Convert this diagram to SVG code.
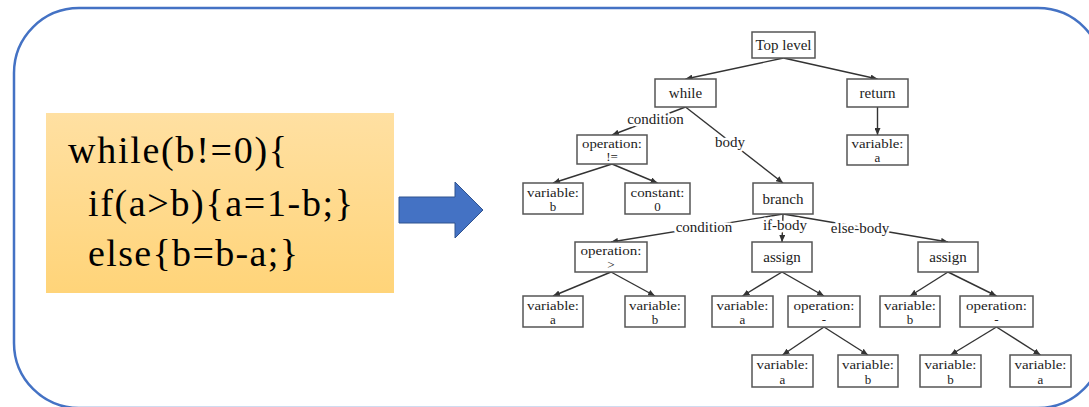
<svg xmlns="http://www.w3.org/2000/svg" width="1089" height="407" viewBox="0 0 1089 407">
<defs>
<linearGradient id="gold" x1="0" y1="0" x2="0" y2="1">
<stop offset="0" stop-color="#FFE0A2"/>
<stop offset="1" stop-color="#FFD479"/>
</linearGradient>
<marker id="ah" markerUnits="userSpaceOnUse" markerWidth="7" markerHeight="6" refX="7" refY="3" orient="auto">
<path d="M0,0 L7,3 L0,6 z" fill="#333"/>
</marker>
</defs>
<style>
.box{fill:#fff;stroke:#555;stroke-width:1.5}
text{font-family:'Liberation Serif','Times New Roman','DejaVu Serif',serif}
.nt{font-size:15px;fill:#222;text-anchor:middle}
.n2{font-size:13px;fill:#222;text-anchor:middle}
.el{font-size:15px;fill:#222;text-anchor:middle;stroke:#fff;stroke-width:5;stroke-linejoin:round;paint-order:stroke}
.edge{stroke:#333;stroke-width:1.4;fill:none;marker-end:url(#ah)}
.code{font-size:38px;fill:#000}
</style>
<rect width="1089" height="407" fill="#fff"/>
<rect x="14" y="8" width="1089" height="400" rx="65" ry="65" fill="none" stroke="#4472C4" stroke-width="2.5"/>
<g id="code-box">
<rect x="46" y="113" width="348" height="180" fill="url(#gold)"/>
<text class="code" x="68" y="163" textLength="219" lengthAdjust="spacing">while(b!=0){</text>
<text class="code" x="88" y="216" textLength="265" lengthAdjust="spacing">if(a&gt;b){a=1-b;}</text>
<text class="code" x="88" y="266" textLength="210" lengthAdjust="spacing">else{b=b-a;}</text>
</g>
<g id="block-arrow">
<path d="M399,197 L455,197 L455,182 L483,210 L455,238 L455,223 L399,223 z" fill="#4472C4" stroke="#2F528F" stroke-width="1"/>
</g>
<g id="connectors">
<line class="edge" x1="783.5" y1="58" x2="685.5" y2="79"/>
<line class="edge" x1="783.5" y1="58" x2="877.5" y2="79"/>
<line class="edge" x1="877.5" y1="107" x2="877.5" y2="135"/>
<line class="edge" x1="685.5" y1="107" x2="612" y2="135"/>
<line class="edge" x1="685.5" y1="107" x2="783" y2="183"/>
<line class="edge" x1="612" y1="164" x2="553" y2="183"/>
<line class="edge" x1="612" y1="164" x2="657.5" y2="183"/>
<line class="edge" x1="783" y1="214" x2="611" y2="242"/>
<line class="edge" x1="783" y1="214" x2="782" y2="242"/>
<line class="edge" x1="783" y1="214" x2="948" y2="242"/>
<line class="edge" x1="611" y1="272" x2="553" y2="296"/>
<line class="edge" x1="611" y1="272" x2="655" y2="296"/>
<line class="edge" x1="782" y1="272" x2="742.5" y2="296"/>
<line class="edge" x1="782" y1="272" x2="824" y2="296"/>
<line class="edge" x1="948" y1="272" x2="910" y2="296"/>
<line class="edge" x1="948" y1="272" x2="996.5" y2="296"/>
<line class="edge" x1="824" y1="327" x2="782.5" y2="355"/>
<line class="edge" x1="824" y1="327" x2="868" y2="355"/>
<line class="edge" x1="996.5" y1="327" x2="950.5" y2="355"/>
<line class="edge" x1="996.5" y1="327" x2="1040.5" y2="355"/>
<text class="el" x="655.5" y="124">condition</text>
<text class="el" x="730" y="147">body</text>
<text class="el" x="704" y="232">condition</text>
<text class="el" x="785" y="230">if-body</text>
<text class="el" x="860" y="233">else-body</text>
</g>
<g id="n-top"><rect class="box" x="752" y="32" width="63" height="26"/><text class="nt" x="783.5" y="50">Top level</text></g>
<g id="n-while"><rect class="box" x="655" y="79" width="61" height="28"/><text class="nt" x="685.5" y="98">while</text></g>
<g id="n-return"><rect class="box" x="847" y="79" width="61" height="28"/><text class="nt" x="877.5" y="98">return</text></g>
<g id="n-ret-var"><rect class="box" x="847" y="135" width="61" height="30"/><text class="n2" x="877.5" y="148" textLength="52" lengthAdjust="spacingAndGlyphs">variable:</text><text class="n2" x="877.5" y="162">a</text></g>
<g id="n-op-ne"><rect class="box" x="577" y="135" width="70" height="29"/><text class="n2" x="612" y="147.5" textLength="60" lengthAdjust="spacingAndGlyphs">operation:</text><text class="n2" x="612" y="161">!=</text></g>
<g id="n-var-b1"><rect class="box" x="523" y="183" width="60" height="31"/><text class="n2" x="553" y="196.5" textLength="52" lengthAdjust="spacingAndGlyphs">variable:</text><text class="n2" x="553" y="211">b</text></g>
<g id="n-const0"><rect class="box" x="625" y="183" width="65" height="31"/><text class="n2" x="657.5" y="196.5" textLength="54" lengthAdjust="spacingAndGlyphs">constant:</text><text class="n2" x="657.5" y="211">0</text></g>
<g id="n-branch"><rect class="box" x="753" y="183" width="60" height="31"/><text class="nt" x="783" y="203.5">branch</text></g>
<g id="n-op-gt"><rect class="box" x="575" y="242" width="72" height="30"/><text class="n2" x="611" y="255" textLength="61" lengthAdjust="spacingAndGlyphs">operation:</text><text class="n2" x="611" y="269">&gt;</text></g>
<g id="n-assign1"><rect class="box" x="752" y="242" width="60" height="30"/><text class="nt" x="782" y="262">assign</text></g>
<g id="n-assign2"><rect class="box" x="918" y="242" width="60" height="30"/><text class="nt" x="948" y="262">assign</text></g>
<g id="n-var-a2"><rect class="box" x="523" y="296" width="60" height="31"/><text class="n2" x="553" y="309.5" textLength="52" lengthAdjust="spacingAndGlyphs">variable:</text><text class="n2" x="553" y="324">a</text></g>
<g id="n-var-b2"><rect class="box" x="625" y="296" width="60" height="31"/><text class="n2" x="655" y="309.5" textLength="52" lengthAdjust="spacingAndGlyphs">variable:</text><text class="n2" x="655" y="324">b</text></g>
<g id="n-var-a3"><rect class="box" x="712" y="296" width="61" height="31"/><text class="n2" x="742.5" y="309.5" textLength="52" lengthAdjust="spacingAndGlyphs">variable:</text><text class="n2" x="742.5" y="324">a</text></g>
<g id="n-op-m1"><rect class="box" x="788" y="296" width="72" height="31"/><text class="n2" x="824" y="309.5" textLength="61" lengthAdjust="spacingAndGlyphs">operation:</text><text class="n2" x="824" y="324">-</text></g>
<g id="n-var-b3"><rect class="box" x="880" y="296" width="60" height="31"/><text class="n2" x="910" y="309.5" textLength="52" lengthAdjust="spacingAndGlyphs">variable:</text><text class="n2" x="910" y="324">b</text></g>
<g id="n-op-m2"><rect class="box" x="960" y="296" width="73" height="31"/><text class="n2" x="996.5" y="309.5" textLength="61" lengthAdjust="spacingAndGlyphs">operation:</text><text class="n2" x="996.5" y="324">-</text></g>
<g id="n-var-a4"><rect class="box" x="752" y="355" width="61" height="32"/><text class="n2" x="782.5" y="369" textLength="52" lengthAdjust="spacingAndGlyphs">variable:</text><text class="n2" x="782.5" y="384">a</text></g>
<g id="n-var-b4"><rect class="box" x="838" y="355" width="60" height="32"/><text class="n2" x="868" y="369" textLength="52" lengthAdjust="spacingAndGlyphs">variable:</text><text class="n2" x="868" y="384">b</text></g>
<g id="n-var-b5"><rect class="box" x="920" y="355" width="61" height="32"/><text class="n2" x="950.5" y="369" textLength="52" lengthAdjust="spacingAndGlyphs">variable:</text><text class="n2" x="950.5" y="384">b</text></g>
<g id="n-var-a5"><rect class="box" x="1010" y="355" width="61" height="32"/><text class="n2" x="1040.5" y="369" textLength="52" lengthAdjust="spacingAndGlyphs">variable:</text><text class="n2" x="1040.5" y="384">a</text></g>
</svg>
